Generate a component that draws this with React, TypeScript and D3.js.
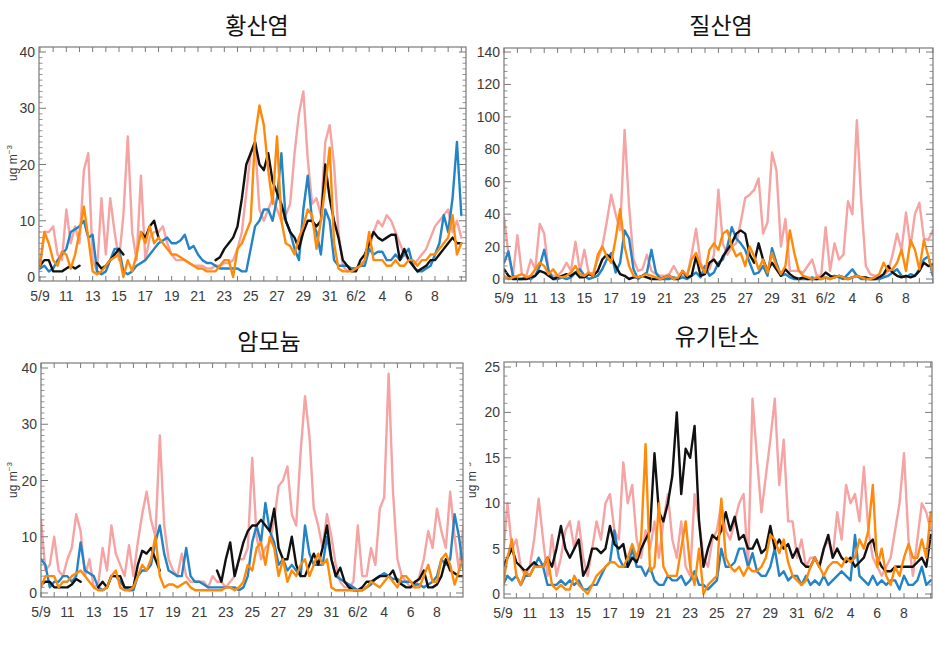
import React from 'react';
import * as d3 from 'd3';

// ---------- shared axis data ----------
const DAY_TICK_LABELS = ["5/9", "11", "13", "15", "17", "19", "21", "23", "25", "27", "29", "31", "6/2", "4", "6", "8"];
const DAY_TICK_DAYS = [0, 2, 4, 6, 8, 10, 12, 14, 16, 18, 20, 22, 24, 26, 28, 30];
const SAMPLES_PER_DAY = 3; // one value every 8 hours, first value at 5/9 00h

const COLORS = { pink: "#f5a3a3", blue: "#2283c6", black: "#111111", orange: "#ff8a0a" };

// ---------- 황산염 (sulfate) ----------
const S1_PINK = [2,8,8, 9,4,3, 12,6,9, 6,19,22, 3,1,14, 4,14,8, 3,11,25, 8,3,18, 3,7,8, 8,9,6, 4,3,3, 3,2.5,2, 2,2,1.5, 1.5,2,2, 2.5,2.5,3, 5,8,15, 22,24,12, 10,12,14, 12,10,11, 13,22,29, 33,21,13, 14,11,24, 27,20,8, 2,1,1.5, 1.5,2,3, 5,8,10, 9,11,10, 8,6,4, 3,2,3, 4,5,7, 9,10,11, 12,8,10, 7];
const S1_BLACK = [2,3,3, 1,1,1, 1.5,2,1.5, 2,null,null, null,2.5,1.5, 2,3,4, 5,4,null, null,null,8, 7,9,10, 7,null,null, null,null,null, null,null,null, null,null,null, null,3,3.5, 5,6,7, 9,14,20, 22,24,20, 19,22,17, 15,13,10, 8,7,5, 8,10,10, 9,10,20, 14,10,7, 3,2,1, 1,3,4, 6,8,7, 6.5,7,7.5, 7.5,3,5, 3,2,1, 1.5,2,3, 3,4,5, 6,7,6, 6];
const S1_BLUE = [1.5,2,1, 1.5,3,4, 5,8,8.5, 9,10,7, 7.5,1,0.5, 1,3,5, 5,1,0.5, 1,2,2.5, 3,4,5, 6,6.5,7, 6,6,6.5, 7.5,5,5.5, 4,3,2.5, 2.5,2,1.5, 1.5,1.5,1.5, 1.5,1,1, 5,9,10, 12,12,10, 14,22,10, 8,5,3, 12,18,10, 8,4,12, 10,3,2, 2,2,1.5, 1.5,2,2, 5,4,4.5, 4.5,3,3, 4,3,4, 5,2,1, 1,1.5,2, 4,6,11, 8,14,24, 11];
const S1_ORANGE = [2,8,6, 3,2,4.5, 4,1.5,4, 8,12.5,7, 1,0.5,1, 2,3,3.5, 4,0,3, 1,4,8, 6,9,6, 7,6,5, 4,4,3.5, 3,2.5,2, 1.5,1.5,1, 1,1,2, 3,3,0, 5,6,8, 10,25,30.5, 27,19,13, 25,10,6, 5.5,4,7, 9,12,11, 5,10,16, 23,6,1.5, 1,1,1, 1.5,2,3, 8,3,3, 3,2,2, 3,2,2, 3,3,2, 3,3,4, 4,5,6, 7,11,4, 6];

// ---------- 질산염 (nitrate) ----------
const S2_PINK = [38,15,2, 27,3,2, 12,6,34, 28,4,2, 2,5,10, 5,23,5, 18,3,4, 12,20,35, 52,40,30, 92,45,12, 5,6,15, 5,3,2, 2,3,8, 3,2,2, 15,31,10, 5,6,15, 55,22,15, 20,22,35, 50,52,55, 62,28,35, 78,67,20, 37,5,5, 5,4,8, 12,2,2, 32,5,22, 12,15,48, 40,98,47, 8,3,2, 2,2,5, 15,28,18, 41,20,40, 47,25,24, 30];
const S2_BLACK = [6,2,0, 0,0,0, 1,2,5, 4,2,0, 1,2,3, 2,4,1, 1,3,2, 5,12,15, 13,8,3, 2,0,1, 1,2,1, 0,0,0, 1,2,0, 0,5,1, 2,14,2, 3,10,12, 8,14,18, 22,28,30, 28,15,10, 22,12,5, 10,6,2, 6,3,1, 0,1,0, 0,0,1, 4,2,1, 2,1,0, 1,2,1, 1,0,0, 1,3,8, 4,2,1, 2,1,2, 5,10,8, 9];
const S2_BLUE = [10,17,2, 0,0,1, 0,2,8, 18,5,0, 0,1,0, 1,4,6, 2,0,1, 2,6,12, 16,4,10, 30,25,6, 0,2,4, 18,4,0, 0,0,1, 0,1,0, 2,4,1, 8,2,4, 10,12,20, 32,25,22, 18,10,3, 4,8,2, 19,10,2, 3,1,0, 0,0,0, 1,0,0, 1,0,2, 1,0,3, 6,2,0, 0,0,0, 0,1,2, 4,6,2, 1,3,2, 6,12,14, 2];
const S2_ORANGE = [2,0,1, 2,3,1, 2,6,10, 8,3,6, 2,1,2, 4,8,3, 2,4,2, 15,20,14, 10,25,43, 20,8,2, 1,2,3, 2,1,0, 1,2,0, 1,5,2, 12,16,8, 4,18,22, 18,28,30, 20,14,16, 8,20,14, 6,12,4, 16,8,3, 8,30,16, 5,2,1, 0,1,0, 1,0,1, 2,1,0, 1,2,1, 0,0,1, 3,10,5, 6,10,18, 5,24,18, 6,24,14, 4];

// ---------- 암모늄 (ammonium) ----------
const S3_PINK = [13,4,5, 10,4,3, 6,8,14, 11,3,6, 1,1.5,8, 4,12,7, 5,3,8.5, 3,9,14, 18,13,10, 28,12,6, 4,3,7, 3,2,2, 2,2,1, 3,2,2, 1,2,3, 6,6,8, 24,10,6, 8,9,13, 19,20,22.5, 14,12,25, 35,28,15, 12,8,14, 10,5,2, 1,1,2, 12,3,3, 8,5,15, 17,39,18, 6,3,2, 1,1,3, 6,11,8, 15,11,8, 18,10,4, 12];
const S3_BLACK = [1.5,2,2, 1,1,1, 1,1.5,2.5, 2,null,null, null,1,2, 1,3,3, 3,1,1, 1,5,7.5, 7,8,6, 4,null,null, null,null,null, null,null,null, null,null,null, null,4,2, 6,9,3, 6,9,11, 12,12,13, 12,11,15, 8,6,6, 10,5,3, 3,5,7, 5,8,12, 6,3,4.5, 2,1,0.5, 0.5,1,2, 2,2.5,3, 3,3,4, 2,1.5,1, 1,2,2.5, 4,1,1, 1.5,3,6, 4,3.5,3, 3];
const S3_BLUE = [6,5,1, 2,2,3, 3,2,3, 9,4,3.5, 3,1,0.5, 1,3,3, 2,1,0.5, 0.5,3,4, 4,5,9, 12,7,4, 3.5,3,3, 8,3,2, 2,1.5,1, 1,1,1, 1,1,1, 0.5,1,3, 9,12,9, 16,11,9, 5,6,4, 5,4,3, 12,7,5, 5,5,10, 6,3,2.5, 2,1.5,1, 0.5,0.5,1, 1.5,2.5,3, 3.5,3,2.5, 2.5,2,2, 2,1.5,1.5, 1,1.5,2, 3,6,5, 6,14,10, 4];
const S3_ORANGE = [1,3,3, 3,1,2, 2,3,3.5, 4,3,2, 1,0.5,0.5, 1,3,4, 1,0.5,0.5, 1,3,5, 4,6,10, 3,1,1.5, 1.5,1,1.5, 2,1,0.5, 0.5,0.5,0.5, 0.5,0.5,0.5, 1,1,0.5, 1,2,5, 4,8,9, 5,10,8, 3,6,2, 4,3,5, 6,3,5, 7,5,6, 1,0.5,0.5, 0.5,0.5,0.5, 0.5,0.5,1, 2,1.5,1, 2,3,2, 1,3,3, 2,1,1, 3,5,2, 2,6,7, 5,1.5,4, 6];

// ---------- 유기탄소 (organic carbon) ----------
const S4_PINK = [4,10,5, 6,3,2, 3,6,10.5, 6,2,6.5, 2,4,7, 8,5,8, 4,2,5, 8,6,10, 11,7,6, 14.5,10,12, 6,4,7, 5,8,4, 8,11,6, 4,8,3, 2,11,8, 4,3,6, 7,10,7, 6,8,10, 11,3,21.5, 15,9,13, 17,21.5,12, 17,8,8, 4,6,3, 4,4,3, 5,6,4, 9,6,12, 10,11,8, 14,7,4, 3,2,3, 4,7,10, 15.5,6,2, 6,10,9, 7];
const S4_BLACK = [3,4,5, 3.5,3,2.5, 3,3.5,3, 3,4,3, 5,7.5,5, 4,5,6, 2,3,5, 5,4.5,5, 7.5,5.5,5, 5.5,3,4, 3.5,5,6, 7,15.5,9, 8,10,13, 20,11,16, 15,18.5,8, 3,5,6.5, 6,7,9, 7,8.5,6, 6.5,5,5, 6,4.5,5, 7.5,5,6, 5,5.5,4, 5,3.5,3, 3,4,3, 5,6.5,4, 5,4,3.5, 4,3,3.5, 4,5.5,6, 4,3,2.5, 2.5,3,3, 3,3,3, 3.5,4,3, 6.5];
const S4_BLUE = [1,2,1.5, 2,1,2, 2,3,4, 3,1,1, 1,1.5,1, 1.5,1,1.5, 0.5,0.5,1, 1,2,3, 3.5,7,4, 3,3,5, 3,3,2, 3,1.5,1, 1,2,1.5, 1.5,2,1, 1.5,2.5,1, 1,0.5,1, 1.5,5,3, 3,3.5,5, 5,3,4.5, 2.5,2,2, 3,5,2, 2.5,1.5,2, 2,1,2, 1,1.5,1, 2,1,1.5, 2,2.5,2, 1.5,6.5,2, 1.5,1,2, 1,1.5,1, 1.5,1.5,0.5, 2,1,1, 1.5,3,1, 1.5];
const S4_ORANGE = [1,4,6, 2,1,2.5, 2,3,3, 3,4,1, 0.5,1,0.5, 0.5,2,1, 0.5,0,1, 2,2.5,3, 3.5,3.5,3, 3,4,5.5, 4,6,16.5, 2.5,3,10, 3,2,2, 2,5,8, 3,1,5, 0,1,1.5, 2,10.5,4, 3,2.5,3, 2,3,2.5, 2.5,3,4, 6.5,6,4.5, 6,3.5,2, 1.5,1,1.5, 3,4,3, 2,3,3.5, 3.5,3,4, 3.5,4,6, 5,7,12, 3,5,2, 1,3,2, 4,5.5,4, 4,6,4, 9];

// ---------- panels ----------
type Series = { values: (number | null)[]; color: string };
type PanelDef = {
  title: string; titleX: number; titleY: number;
  left: number; right: number; top: number; bottom: number;
  xDay0: number; xDay30: number;
  yZeroPx: number; yMaxPx: number; yMax: number; yStep: number; yMinor: number;
  ylabelX: number | null; ylabelY: number; clipLabelLeft?: number;
  series: Series[];
};

const PANELS: PanelDef[] = [
  {
    title: "황산염", titleX: 257, titleY: 24,
    left: 39, right: 466, top: 47, bottom: 281, xDay0: 40, xDay30: 435,
    yZeroPx: 277, yMaxPx: 52, yMax: 40, yStep: 10, yMinor: 1,
    ylabelX: 13, ylabelY: 163,
    series: [
      { values: S1_PINK, color: COLORS.pink }, { values: S1_BLUE, color: COLORS.blue },
      { values: S1_BLACK, color: COLORS.black }, { values: S1_ORANGE, color: COLORS.orange },
    ],
  },
  {
    title: "질산염", titleX: 721, titleY: 24,
    left: 504, right: 933, top: 48, bottom: 283, xDay0: 504, xDay30: 906,
    yZeroPx: 279, yMaxPx: 52, yMax: 140, yStep: 20, yMinor: 4,
    ylabelX: null, ylabelY: 0,
    series: [
      { values: S2_PINK, color: COLORS.pink }, { values: S2_BLUE, color: COLORS.blue },
      { values: S2_BLACK, color: COLORS.black }, { values: S2_ORANGE, color: COLORS.orange },
    ],
  },
  {
    title: "암모늄", titleX: 269, titleY: 340,
    left: 41, right: 463, top: 363, bottom: 597, xDay0: 41, xDay30: 437,
    yZeroPx: 593, yMaxPx: 368, yMax: 40, yStep: 10, yMinor: 1,
    ylabelX: 13, ylabelY: 480,
    series: [
      { values: S3_PINK, color: COLORS.pink }, { values: S3_BLUE, color: COLORS.blue },
      { values: S3_BLACK, color: COLORS.black }, { values: S3_ORANGE, color: COLORS.orange },
    ],
  },
  {
    title: "유기탄소", titleX: 717, titleY: 335,
    left: 504, right: 932, top: 362, bottom: 598, xDay0: 503, xDay30: 904,
    yZeroPx: 594, yMaxPx: 367, yMax: 25, yStep: 5, yMinor: 1,
    ylabelX: 472, ylabelY: 480, clipLabelLeft: 469,
    series: [
      { values: S4_PINK, color: COLORS.pink }, { values: S4_BLUE, color: COLORS.blue },
      { values: S4_BLACK, color: COLORS.black }, { values: S4_ORANGE, color: COLORS.orange },
    ],
  },
];

const TICK_FONT = "'Liberation Sans Narrow', 'Arial Narrow', 'Liberation Sans', Arial, sans-serif";
const AXIS_COLOR = "#7a7a7a";
const TEXT_COLOR = "#3a3a3a";

function Panel({ p, idx }: { p: PanelDef; idx: number }) {
  const x = d3.scaleLinear().domain([0, 30]).range([p.xDay0, p.xDay30]);
  const y = d3.scaleLinear().domain([0, p.yMax]).range([p.yZeroPx, p.yMaxPx]);
  const lastDay = Math.floor(x.invert(p.right));
  const dayTicks = d3.range(0, lastDay + 1).filter(d => x(d) >= p.left - 0.5 && x(d) <= p.right + 0.5);
  const majorY = d3.range(0, p.yMax + 0.001, p.yStep);
  const yTopVal = y.invert(p.top);
  const minorY = d3.range(0, yTopVal, p.yMinor).filter(v => Math.abs(v / p.yStep - Math.round(v / p.yStep)) > 1e-6);
  const clipId = `clip-${idx}`;
  const labelClip = `lclip-${idx}`;

  const mkLine = (vals: (number | null)[]) =>
    d3.line<number | null>()
      .defined(v => v !== null && v !== undefined)
      .x((_, i) => x(i / SAMPLES_PER_DAY))
      .y(v => y(v as number))
      .curve(d3.curveLinear)(vals) || "";

  return (
    <g>
      <defs>
        <clipPath id={clipId}>
          <rect x={p.left} y={p.top} width={p.right - p.left} height={p.bottom - p.top} />
        </clipPath>
        {p.clipLabelLeft !== undefined && (
          <clipPath id={labelClip}>
            <rect x={p.clipLabelLeft} y={p.top} width={40} height={p.bottom - p.top} />
          </clipPath>
        )}
      </defs>
      <text x={p.titleX} y={p.titleY} textAnchor="middle" dominantBaseline="central"
        fontFamily="'Noto Sans CJK KR', 'Noto Sans', sans-serif" fontSize={23} fill="#111">
        {p.title}
      </text>
      <g clipPath={`url(#${clipId})`}>
        {p.series.map((s, i) => (
          <path key={i} d={mkLine(s.values)} fill="none" stroke={s.color} strokeWidth={2.4}
            strokeLinejoin="round" strokeLinecap="round" />
        ))}
      </g>
      <rect x={p.left} y={p.top} width={p.right - p.left} height={p.bottom - p.top}
        fill="none" stroke={AXIS_COLOR} strokeWidth={1.2} />
      {dayTicks.map(d => (
        <g key={`dt${d}`} stroke={AXIS_COLOR} strokeWidth={1}>
          <line x1={x(d)} x2={x(d)} y1={p.bottom} y2={p.bottom - 5} />
          <line x1={x(d)} x2={x(d)} y1={p.top} y2={p.top + 5} />
        </g>
      ))}
      {majorY.map(v => (
        <g key={`my${v}`} stroke={AXIS_COLOR} strokeWidth={1}>
          <line x1={p.left} x2={p.left + 7} y1={y(v)} y2={y(v)} />
          <line x1={p.right} x2={p.right - 7} y1={y(v)} y2={y(v)} />
        </g>
      ))}
      {minorY.map(v => (
        <g key={`mn${v}`} stroke={AXIS_COLOR} strokeWidth={0.8}>
          <line x1={p.left} x2={p.left + 3.5} y1={y(v)} y2={y(v)} />
          <line x1={p.right} x2={p.right - 3.5} y1={y(v)} y2={y(v)} />
        </g>
      ))}
      {majorY.map(v => (
        <text key={`yl${v}`} x={p.left - 4} y={y(v)} textAnchor="end" dominantBaseline="central"
          fontFamily={TICK_FONT} fontSize={14} fill={TEXT_COLOR}>{v}</text>
      ))}
      {DAY_TICK_DAYS.map((d, i) => (
        <text key={`xl${d}`} x={x(d)} y={p.bottom + 15} textAnchor="middle" dominantBaseline="central"
          fontFamily={TICK_FONT} fontSize={14} fill={TEXT_COLOR}>{DAY_TICK_LABELS[i]}</text>
      ))}
      {p.ylabelX !== null && (
        <g clipPath={p.clipLabelLeft !== undefined ? `url(#${labelClip})` : undefined}>
          <text transform={`translate(${p.ylabelX},${p.ylabelY}) rotate(-90)`} textAnchor="middle"
            dominantBaseline="central" fontFamily="'Liberation Sans', Arial, sans-serif" fontSize={12} fill={TEXT_COLOR}>
            ug m<tspan dy={-4} fontSize={8}>−3</tspan>
          </text>
        </g>
      )}
    </g>
  );
}

export default function App() {
  return (
    <svg width={939} height={663} style={{ position: "absolute", left: 0, top: 0, background: "#fff" }}>
      <rect x={0} y={0} width={939} height={663} fill="#fff" />
      {PANELS.map((p, i) => <Panel key={i} p={p} idx={i} />)}
    </svg>
  );
}
